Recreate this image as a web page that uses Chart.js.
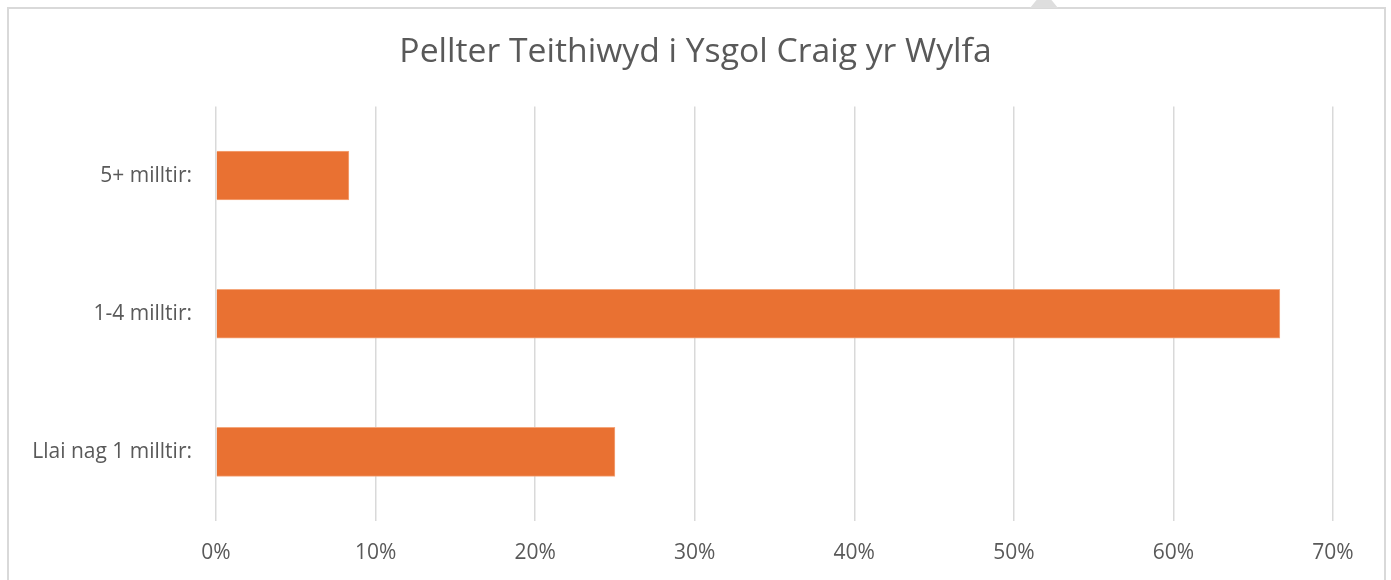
<!DOCTYPE html>
<html>
<head>
<meta charset="utf-8">
<script src="https://cdn.jsdelivr.net/npm/chart.js@4"></script>
<style>
  body { margin: 0; background: #fff; }
  #frame { position: absolute; left: 7px; top: 7px; width: 1375px; height: 600px; border: 2px solid #d9d9d9; }
  #mark { position: absolute; left: 1030px; top: -4px; width: 28px; height: 12px; background: #dedede; clip-path: polygon(35% 0, 65% 0, 100% 100%, 0 100%); }
  #wrap { position: absolute; left: 0; top: 0; width: 1391px; height: 580px; }
</style>
</head>
<body>
<div id="frame"></div>
<div id="mark"></div>
<div id="wrap"><canvas id="bar-chart"></canvas></div>
<script>
  var categories = ["5+ milltir:", "1-4 milltir:", "Llai nag 1 milltir:"];
  var percents = [8.33, 66.67, 25];
  var tickValues = [0, 10, 20, 30, 40, 50, 60, 70];

  new Chart(document.getElementById("bar-chart"), {
      type: 'bar',
      data: {
        labels: categories,
        datasets: [{
            data: percents,
            backgroundColor: "#E97132",
            borderColor: "#F4A77C",
            borderWidth: 1,
            barThickness: 49
          }
        ]
      },
      options: {
          indexAxis: 'y',
          responsive: true,
          maintainAspectRatio: false,
          animation: false,
          layout: { padding: 0 },
          plugins: {
            legend: { display: false },
            tooltip: { enabled: false },
            title: {
              display: true,
              text: "Pellter Teithiwyd i Ysgol Craig yr Wylfa",
              color: "#595959",
              font: { family: "Open Sans", size: 33.7, weight: 'normal', lineHeight: 1.2 },
              padding: { top: 32, bottom: 34 }
            }
          },
          scales: {
            x: {
              min: 0,
              max: 70,
              afterBuildTicks: function(scale) {
                scale.ticks = tickValues.map(function(v) { return { value: v }; });
              },
              afterFit: function(scale) { scale.height = 59; },
              grid: { color: "#d9d9d9", lineWidth: 1.5, drawTicks: false },
              border: { display: false },
              ticks: {
                padding: 19,
                color: "#595959",
                font: { family: "Open Sans", size: 21 },
                callback: function(v) { return v + "%"; }
              }
            },
            y: {
              afterFit: function(scale) { scale.width = 216; },
              grid: { display: false, drawTicks: false },
              border: { display: false },
              ticks: {
                padding: 24,
                color: "#595959",
                font: { family: "Open Sans", size: 21 }
              }
            },
            // empty right-hand gutter so the 70% line sits inside the frame
            y2: {
              position: 'right',
              afterFit: function(scale) { scale.width = 58; },
              grid: { display: false, drawTicks: false },
              border: { display: false },
              ticks: { display: false }
            }
          }
      }
    });
</script>
</body>
</html>
